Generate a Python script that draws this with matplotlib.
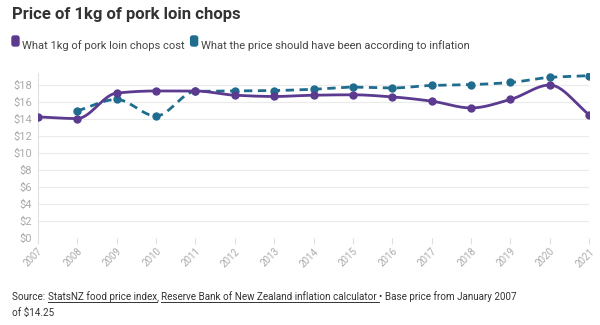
import numpy as np
import matplotlib
matplotlib.use('Agg')
import matplotlib.pyplot as plt
from matplotlib.patches import FancyBboxPatch

# data
years = list(range(2007, 2022))
actual = [14.25, 14.05, 17.05, 17.3, 17.3, 16.8, 16.65, 16.8, 16.85, 16.6, 16.1, 15.3, 16.3, 18.0, 14.5]
infl_years = list(range(2008, 2022))
inflation = [14.95, 16.3, 14.35, 17.25, 17.3, 17.35, 17.5, 17.75, 17.65, 17.95, 18.05, 18.3, 18.9, 19.1]
yticks = list(range(0, 20, 2))

purple = '#5b3a8f'
blue = '#1f6c8f'

plt.rcParams['font.family'] = ['Roboto', 'DejaVu Sans']


def monotone(x, y, n=30):
    # monotone cubic curve through the points (like d3 curveMonotoneX)
    x = np.asarray(x, float)
    y = np.asarray(y, float)
    h = np.diff(x)
    d = np.diff(y) / h
    m = np.zeros_like(y)
    m[0], m[-1] = d[0], d[-1]
    for i in range(1, len(y) - 1):
        if d[i - 1] * d[i] <= 0:
            m[i] = 0
        else:
            m[i] = 3 * (h[i - 1] + h[i]) / ((2 * h[i] + h[i - 1]) / d[i - 1] + (h[i] + 2 * h[i - 1]) / d[i])
    xs, ys = [], []
    for i in range(len(h)):
        t = np.linspace(0, 1, n)
        h00 = 2 * t**3 - 3 * t**2 + 1
        h10 = t**3 - 2 * t**2 + t
        h01 = -2 * t**3 + 3 * t**2
        h11 = t**3 - t**2
        xs.extend(x[i] + t * h[i])
        ys.extend(h00 * y[i] + h10 * h[i] * m[i] + h01 * y[i + 1] + h11 * h[i] * m[i + 1])
    return xs, ys


fig = plt.figure(figsize=(6, 3.25), dpi=100)
ax = fig.add_axes([0.063, 0.268, 0.919, 0.507])

for yv in yticks:
    ax.axhline(yv, color='#ebebeb', lw=0.8, zorder=0)

xs, ys = monotone(infl_years, inflation)
ax.plot(xs, ys, color=blue, lw=2, ls=(0, (3, 2)), zorder=2)
ax.plot(infl_years, inflation, 'o', color=blue, ms=5, zorder=3)

xs, ys = monotone(years, actual)
ax.plot(xs, ys, color=purple, lw=2, zorder=4)
ax.plot(years, actual, 'o', color=purple, ms=5, zorder=5)

ax.set_xlim(2007, 2021)
ax.set_ylim(0, 19.4)
ax.set_yticks(yticks)
ax.set_yticklabels(['$%d' % v for v in yticks], color='#aaaaaa', fontsize=8)
ax.set_xticks(years)
ax.set_xticklabels([str(y) for y in years], rotation=45, ha='right', rotation_mode='anchor',
                   color='#aaaaaa', fontsize=7)
ax.tick_params(axis='y', length=0, pad=4)
ax.tick_params(axis='x', length=4, color='#e0e0e0', pad=2)
for s in ['top', 'right', 'bottom']:
    ax.spines[s].set_visible(False)
ax.spines['left'].set_color('#e0e0e0')
ax.axvline(2021, color='#eeeeee', lw=0.8, zorder=0)

fig.text(0.02, 0.955, 'Price of 1kg of pork loin chops', fontsize=12, fontweight='bold',
         color='#333333', va='center')

renderer = fig.canvas.get_renderer()

# legend
x = 12
for label, col in [('What 1kg of pork loin chops cost', purple),
                   ('What the price should have been according to inflation', blue)]:
    fig.patches.append(FancyBboxPatch((x, 279), 7, 10, boxstyle='round,pad=0,rounding_size=2',
                                      transform=None, color=col))
    t = fig.text((x + 10) / 600, 1 - 46 / 325, label, fontsize=8, color='#444444', va='center')
    x = t.get_window_extent(renderer).x1 + 6

# source line with underlined links
parts = [('Source: ', False), ('StatsNZ food price index', True), (', ', False),
         ('Reserve Bank of New Zealand inflation calculator ', True),
         ('\u2022 Base price from January 2007', False)]
x = 12
ybase = 325 - 300
for txt, ul in parts:
    t = fig.text(x / 600, ybase / 325, txt, fontsize=7.1, color='#333333', va='baseline')
    bb = t.get_window_extent(renderer)
    if ul:
        fig.add_artist(plt.Line2D([bb.x0, bb.x1], [ybase - 2, ybase - 2], transform=None,
                                  color='#333333', lw=0.7))
    x = bb.x1
fig.text(12 / 600, (325 - 316) / 325, 'of $14.25', fontsize=7.1, color='#333333', va='baseline')

fig.savefig('out.png', dpi=100, facecolor='white')
